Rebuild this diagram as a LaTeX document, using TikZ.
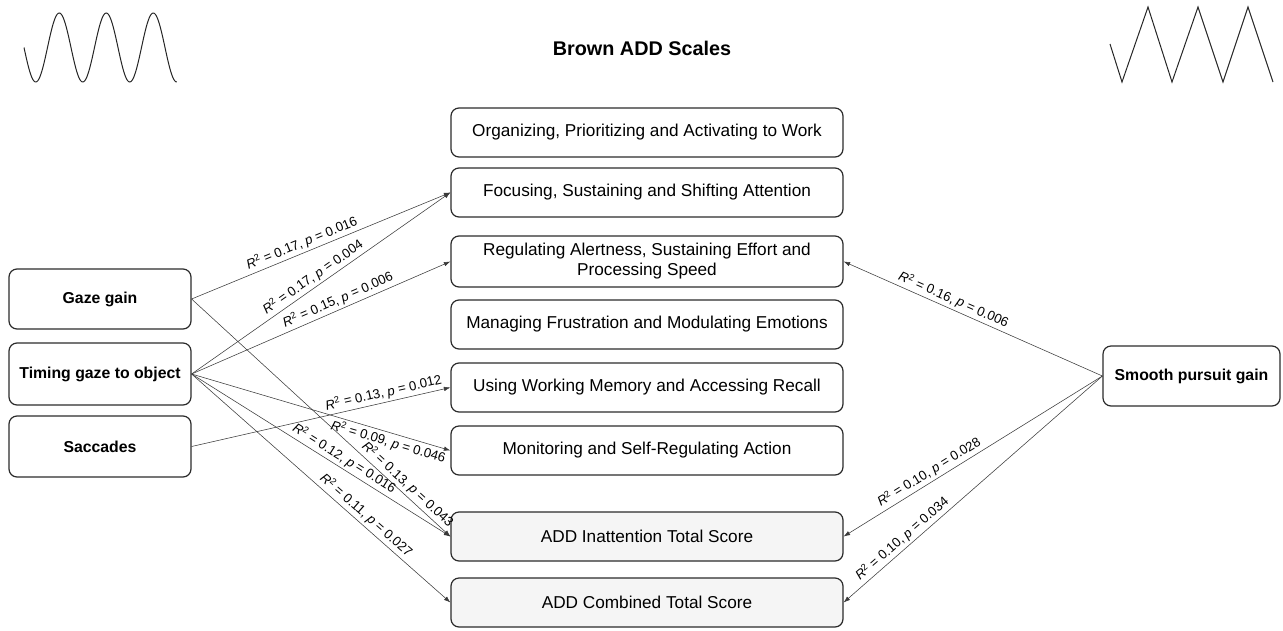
\documentclass[tikz,border=0pt]{standalone}
\usepackage{fontspec}
\setmainfont{Liberation Sans}
\usetikzlibrary{arrows.meta}
\definecolor{boxline}{HTML}{2B2B2B}
\definecolor{arrline}{HTML}{3A3A3A}
\definecolor{addfill}{HTML}{F5F5F5}
\newcommand{\lab}[2]{\textit{R}\textsuperscript{2} = #1, \textit{p} = #2}
\begin{document}
\begin{tikzpicture}[x=1pt,y=-1pt,
  scalebox/.style={draw=boxline, line width=1.2pt, rounded corners=8pt, align=center,
    font=\fontsize{17.2}{20}\selectfont, inner sep=0pt, minimum width=392pt, minimum height=49pt},
  addbox/.style={scalebox, fill=addfill},
  sidebox/.style={draw=boxline, line width=1.2pt, rounded corners=8pt, align=center,
    font=\bfseries\fontsize{15.8}{19}\selectfont, inner sep=0pt, minimum width=182pt, minimum height=61pt},
  conn/.style={draw=arrline, line width=0.55pt, -{Latex[length=6.5pt,width=4.5pt]}},
  rconn/.style={draw=arrline, line width=0.55pt, {Latex[length=6.5pt,width=4.5pt]}-},
  lbl/.style={sloped, font=\fontsize{13.2}{15}\selectfont, inner sep=2.5pt},
  wave/.style={draw=black!85, line width=1pt}
]
\useasboundingbox (0,0) rectangle (1283,630);

% title
\node[font=\bfseries\fontsize{19.8}{22}\selectfont] (title) at (642,48) {Brown ADD Scales};

% waves
\draw[wave] plot[domain=0:152.75, samples=200] ({\x+24}, {47.5+34.5*sin(7.6596*\x)});
\draw[wave] (1110,44) -- (1122,82) -- (1148,7) -- (1172,82) -- (1198,7) -- (1223,82) -- (1248,7) -- (1273,82);

% scale boxes
\node[scalebox] (org) at (647,132.5) {Organizing, Prioritizing and Activating to Work};
\node[scalebox] (foc) at (647,192.5) {Focusing, Sustaining and Shifting Attention};
\node[scalebox, minimum height=51pt] (reg) at (647,261.5) {Regulating Alertness, Sustaining Effort and\\Processing Speed};
\node[scalebox] (man) at (647,324.5) {Managing Frustration and Modulating Emotions};
\node[scalebox] (wm) at (647,387.5) {Using Working Memory and Accessing Recall};
\node[scalebox] (mon) at (647,450.5) {Monitoring and Self-Regulating Action};
\node[addbox] (inat) at (647,536.5) {ADD Inattention Total Score};
\node[addbox] (comb) at (647,602.5) {ADD Combined Total Score};

% left boxes
\node[sidebox, minimum height=60pt] (gaze) at (100,299) {Gaze gain};
\node[sidebox, minimum height=62pt] (timing) at (100,374) {Timing gaze to object};
\node[sidebox] (sacc) at (100,446.5) {Saccades};

% right box
\node[sidebox, minimum width=177pt, minimum height=60pt] (smooth) at (1191.5,376) {Smooth pursuit gain};

% connectors from left
\draw[conn] (gaze.east) -- node[lbl, above, pos=0.44] {\lab{0.17}{0.016}} (foc.west);
\draw[conn] (timing.east) -- node[lbl, above, pos=0.49] {\lab{0.17}{0.004}} (foc.west);
\draw[conn] (timing.east) -- node[lbl, above, pos=0.58] {\lab{0.15}{0.006}} (reg.west);
\draw[conn] (sacc.east) -- node[lbl, above, pos=0.75] {\lab{0.13}{0.012}} (wm.west);
\draw[conn] (timing.east) -- node[lbl, below, pos=0.77] {\lab{0.09}{0.046}} (mon.west);
\draw[conn] (gaze.east) -- node[lbl, above, pos=0.81] {\lab{0.13}{0.043}} (inat.west);
\draw[conn] (timing.east) -- node[lbl, above, pos=0.57] {\lab{0.12}{0.016}} (inat.west);
\draw[conn] (timing.east) -- node[lbl, above, pos=0.65] {\lab{0.11}{0.027}} (comb.west);

% connectors from right
\draw[rconn] (reg.east) -- node[lbl, above, pos=0.41] {\lab{0.16}{0.006}} (smooth.west);
\draw[rconn] (inat.east) -- node[lbl, above, pos=0.35] {\lab{0.10}{0.028}} (smooth.west);
\draw[rconn] (comb.east) -- node[lbl, above, pos=0.25] {\lab{0.10}{0.034}} (smooth.west);
\end{tikzpicture}
\end{document}
